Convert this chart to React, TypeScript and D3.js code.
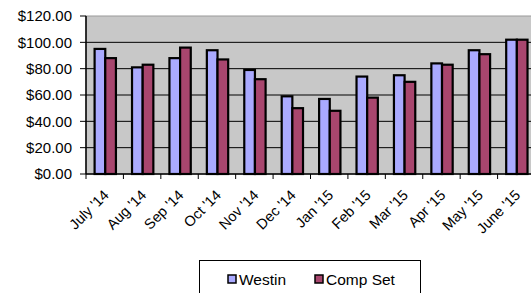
import React from 'react';
import * as d3 from 'd3';

const months = ["July '14", "Aug '14", "Sep '14", "Oct '14", "Nov '14", "Dec '14", "Jan '15", "Feb '15", "Mar '15", "Apr '15", "May '15", "June '15"];
const westin = [95, 81, 88, 94, 79, 59, 57, 74, 75, 84, 94, 102];
const compSet = [88, 83, 96, 87, 72, 50, 48, 58, 70, 83, 91, 102];
const yTicks = [0, 20, 40, 60, 80, 100, 120];
const seriesNames = ['Westin', 'Comp Set'];
const seriesColors = ['#aaaaff', '#a8466e'];

export default function App() {
  const width = 531;
  const height = 293;
  const left = 86, right = 535, top = 16, bottom = 174;

  const x = d3.scaleBand<string>().domain(months).range([left, right]);
  const bw = x.bandwidth();
  const x1 = d3.scaleBand<string>().domain(seriesNames).range([bw * 0.23, bw * 0.8]);
  const y = d3.scaleLinear().domain([0, 120]).range([bottom, top]);
  const fmt = (v: number) => '$' + d3.format('.2f')(v);
  const series = [westin, compSet];
  const font = '"Liberation Sans", Arial, sans-serif';

  return (
    <svg width={width} height={height} style={{ position: 'absolute', left: 0, top: 0 }} fontFamily={font}>
      <rect x={left} y={top} width={right - left} height={bottom - top} fill="#c8c8c8" stroke="#9a9a9a" strokeWidth={1} />
      {yTicks.filter(t => t > 0 && t < 120).map(t => (
        <line key={t} x1={left} x2={right} y1={y(t)} y2={y(t)} stroke="#000" strokeWidth={1} />
      ))}
      {months.map((m, i) => (
        <g key={m} transform={`translate(${x(m)},0)`}>
          {series.map((s, j) => (
            <rect key={j} x={x1(seriesNames[j])} y={y(s[i])} width={x1.bandwidth()} height={bottom - y(s[i])}
              fill={seriesColors[j]} stroke="#000" strokeWidth={2.2} />
          ))}
        </g>
      ))}
      <line x1={left} x2={left} y1={top} y2={bottom} stroke="#000" strokeWidth={1.5} />
      <line x1={left} x2={right} y1={bottom} y2={bottom} stroke="#000" strokeWidth={1.5} />
      {yTicks.map(t => (
        <g key={t}>
          <line x1={left - 6} x2={left} y1={y(t)} y2={y(t)} stroke="#000" />
          <text x={left - 14} y={y(t)} dy="0.36em" textAnchor="end" fontSize={15} fill="#000">{fmt(t)}</text>
        </g>
      ))}
      {months.map(m => (
        <g key={m}>
          <line x1={x(m)} x2={x(m)} y1={bottom} y2={bottom + 5} stroke="#000" />
          <text transform={`translate(${(x(m) as number) + bw / 2 + 5},${bottom + 22}) rotate(-45)`}
            textAnchor="end" fontSize={14.5} fill="#000">{m}</text>
        </g>
      ))}
      <g>
        <rect x={199.5} y={260.5} width={221} height={40} fill="#fff" stroke="#000" strokeWidth={1} />
        {seriesNames.map((n, j) => {
          const lx = j === 0 ? 228 : 315;
          return (
            <g key={n}>
              <rect x={lx} y={275} width={8} height={8} fill={seriesColors[j]} stroke="#000" strokeWidth={1.5} />
              <text x={lx + 11} y={285} fontSize={15.5} fill="#000">{n}</text>
            </g>
          );
        })}
      </g>
    </svg>
  );
}
